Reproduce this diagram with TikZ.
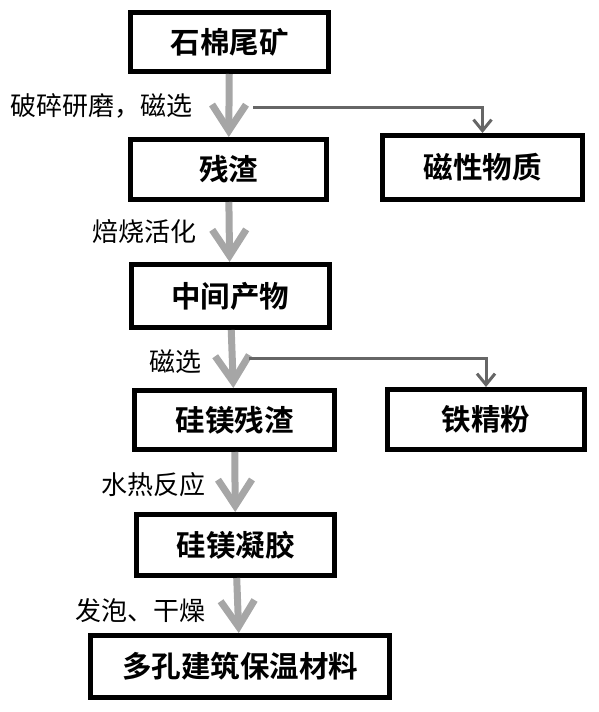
\documentclass[tikz,border=0pt]{standalone}
\usepackage{fontspec}
\setmainfont{Noto Sans CJK SC}[BoldFont={Noto Sans CJK SC Bold}]
\usepackage{tikz}
\usetikzlibrary{arrows.meta}
\tikzset{box/.style={rectangle,draw,line width=5pt,fill=white,minimum width=198pt,minimum height=59pt,inner sep=0pt,font=\bfseries\fontsize{29.5}{29.5}\selectfont}}
\tikzset{flow/.style={draw=black!35,line width=7pt,-{Straight Barb[length=26pt,width=34pt]}}}
\tikzset{side/.style={draw=black!60,line width=3pt,-{Straight Barb[length=11pt,width=18pt]}}}
\tikzset{lab/.style={font=\fontsize{26}{26}\selectfont,inner sep=0pt}}

\begin{document}
\begin{tikzpicture}[x=1pt,y=-1pt]
        \useasboundingbox (0,0) rectangle (599,712);
        \node[box] (ore) at (229.5,42) {石棉尾矿};
        \node[box,minimum width=196pt,minimum height=60pt] (res) at (228.5,169.5) {残渣};
        \node[box,minimum width=200pt,minimum height=64pt] (mag) at (482.5,167.5) {磁性物质};
        \node[box,minimum height=63pt] (mid) at (230,296) {中间产物\hspace{24pt}};
        \node[box,minimum width=200pt] (smr) at (234.5,420) {硅镁残渣};
        \node[box,minimum width=197pt,minimum height=60pt] (iron) at (486,419.5) {铁精粉};
        \node[box,minimum height=61pt] (gel) at (235.5,545) {硅镁凝胶};
        \node[box,minimum width=299pt,minimum height=62pt] (prod) at (240,666.5) {多孔建筑保温材料};
        \coordinate (b1) at (253,107);
        \coordinate (b2) at (249,358);

        \draw [flow] (ore) to []node[lab,left=33pt,pos=.5]{破碎研磨，磁选} (res);
        \draw [flow] (res) to []node[lab,left=29pt,pos=.5]{焙烧活化} (mid);
        \draw [flow] (mid) to []node[lab,left=27pt,pos=.55]{磁选} (smr);
        \draw [flow] (smr) to []node[lab,left=26pt,pos=.55]{水热反应} (gel);
        \draw [flow] (gel) to []node[lab,left=29pt,pos=.6]{发泡、干燥} (prod);
        \draw [side] (b1) -| (mag);
        \draw [side] (b2) -| (iron);
    \end{tikzpicture}
\end{document}
